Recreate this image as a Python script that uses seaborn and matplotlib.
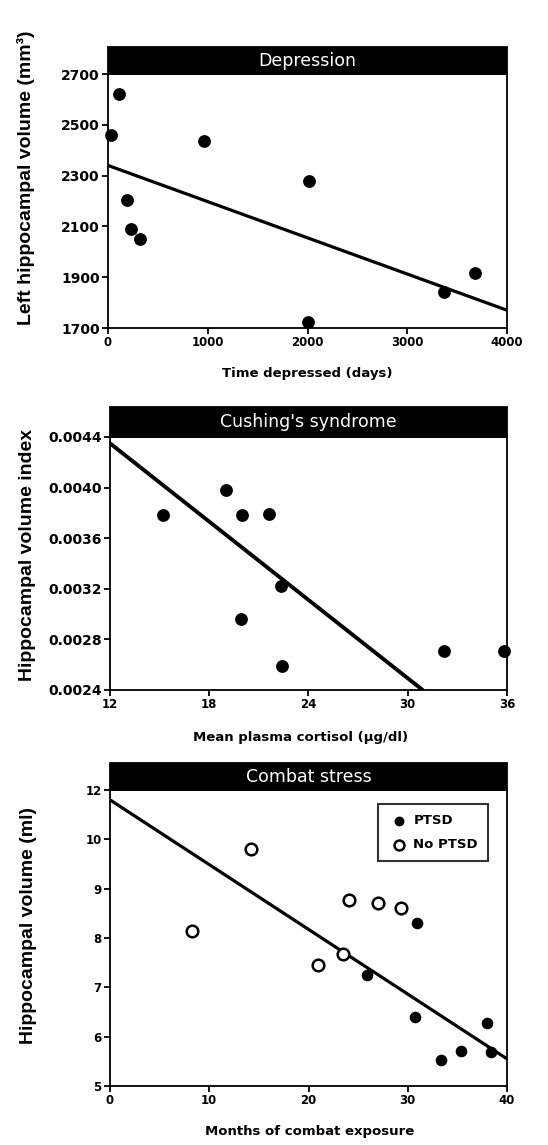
import matplotlib
matplotlib.use("Agg")
import matplotlib.pyplot as plt
from matplotlib.patches import Rectangle
import seaborn as sns

# Depression panel
dep_days = [30, 110, 195, 235, 320, 960, 2020, 2010, 3370, 3680]
dep_vol = [2460, 2620, 2205, 2090, 2050, 2435, 2280, 1725, 1840, 1915]
dep_fit_x = [0, 4000]
dep_fit_y = [2340, 1770]
dep_xticks = [0, 1000, 2000, 3000, 4000]
dep_yticks = [1700, 1900, 2100, 2300, 2500, 2700]

# Cushing's syndrome panel
cush_cortisol = [15.2, 19.0, 20.0, 21.6, 22.35, 19.9, 22.4, 32.2, 35.8]
cush_index = [0.00378, 0.00398, 0.00378, 0.00379, 0.00322, 0.00296, 0.00259, 0.00271, 0.00271]
cush_fit_x = [12, 30.9]
cush_fit_y = [0.00435, 0.0024]
cush_xticks = [12, 18, 24, 30, 36]
cush_yticks = [0.0024, 0.0028, 0.0032, 0.0036, 0.0040, 0.0044]

# Combat stress panel
ptsd_months = [30.9, 25.9, 30.7, 33.3, 35.4, 38.0, 38.4]
ptsd_vol = [8.31, 7.25, 6.39, 5.52, 5.70, 6.27, 5.68]
noptsd_months = [8.3, 14.2, 21.0, 23.5, 24.1, 27.0, 29.3]
noptsd_vol = [8.15, 9.81, 7.45, 7.68, 8.78, 8.70, 8.60]
combat_fit_x = [0, 40]
combat_fit_y = [10.8, 5.55]
combat_xticks = [0, 10, 20, 30, 40]
combat_yticks = [5, 6, 7, 8, 9, 10, 11]
combat_yticklabels = ['5', '6', '7', '8', '9', '10', '12']

sns.set_style("ticks")
plt.rcParams['font.family'] = ['DejaVu Sans']
plt.rcParams['text.color'] = 'black'
plt.rcParams['axes.labelcolor'] = 'black'

W, H = 548, 1145
fig = plt.figure(figsize=(W / 100, H / 100), dpi=100)
fig.patch.set_facecolor('white')


def make_axes(left, top, right, bottom):
    return fig.add_axes([left / W, 1 - bottom / H, (right - left) / W, (bottom - top) / H])


def style_axes(ax, xsize, ysize):
    for s in ax.spines.values():
        s.set_linewidth(1.3)
        s.set_color('black')
    ax.tick_params(direction='out', length=4, width=1.3, pad=2, colors='black')
    ax.tick_params(axis='x', labelsize=xsize)
    ax.tick_params(axis='y', labelsize=ysize)
    for lab in ax.get_xticklabels() + ax.get_yticklabels():
        lab.set_fontweight('bold')


def header(ax, text, bar_px, ax_px):
    h = bar_px / ax_px
    ax.add_patch(Rectangle((0, 1), 1, h, transform=ax.transAxes, facecolor='black',
                           edgecolor='black', lw=1.3, clip_on=False))
    ax.text(0.5, 1 + h / 2, text, transform=ax.transAxes, ha='center', va='center',
            color='white', fontsize=12.5)


def fig_text(xpx, ypx, text, **kw):
    fig.text(xpx / W, 1 - ypx / H, text, ha='center', va='center', color='black', **kw)


# --- Depression ---
ax1 = make_axes(108, 74, 507, 328)
sns.lineplot(x=dep_fit_x, y=dep_fit_y, ax=ax1, color='black', lw=2.3)
sns.scatterplot(x=dep_days, y=dep_vol, ax=ax1, color='black', s=85, edgecolor='black',
                linewidth=0, clip_on=False, zorder=3)
ax1.set_xlim(0, 4000)
ax1.set_ylim(1700, 2700)
ax1.set_xticks(dep_xticks)
ax1.set_yticks(dep_yticks)
style_axes(ax1, 8.5, 10)
header(ax1, 'Depression', 27, 254)
fig_text(307, 373, 'Time depressed (days)', fontsize=9.5, fontweight='bold')
fig_text(26, 178, 'Left hippocampal volume (mm³)', rotation=90, fontsize=14,
         fontweight='bold', family='Liberation Sans')

# --- Cushing's syndrome ---
ax2 = make_axes(110, 437, 507, 690)
sns.lineplot(x=cush_fit_x, y=cush_fit_y, ax=ax2, color='black', lw=2.8)
sns.scatterplot(x=cush_cortisol, y=cush_index, ax=ax2, color='black', s=85, edgecolor='black',
                linewidth=0, clip_on=False, zorder=3)
ax2.set_xlim(12, 36)
ax2.set_ylim(0.0024, 0.0044)
ax2.set_xticks(cush_xticks)
ax2.set_yticks(cush_yticks)
ax2.set_yticklabels(['%.4f' % v for v in cush_yticks])
style_axes(ax2, 8.5, 10)
header(ax2, "Cushing's syndrome", 30, 253)
fig_text(301, 738, 'Mean plasma cortisol (μg/dl)', fontsize=9.5, fontweight='bold')
fig_text(28, 555, 'Hippocampal volume index', rotation=90, fontsize=14,
         fontweight='bold', family='Liberation Sans')

# --- Combat stress ---
ax3 = make_axes(110, 790, 507, 1086)
sns.lineplot(x=combat_fit_x, y=combat_fit_y, ax=ax3, color='black', lw=2.3)
sns.scatterplot(x=ptsd_months, y=ptsd_vol, ax=ax3, color='black', s=70, edgecolor='black',
                linewidth=0, clip_on=False, zorder=3, label='PTSD')
sns.scatterplot(x=noptsd_months, y=noptsd_vol, ax=ax3, color='white', s=70, edgecolor='black',
                linewidth=1.8, clip_on=False, zorder=3, label='No PTSD')
ax3.set_xlim(0, 40)
ax3.set_ylim(5, 11)
ax3.set_xticks(combat_xticks)
ax3.set_yticks(combat_yticks)
ax3.set_yticklabels(combat_yticklabels)
style_axes(ax3, 8.5, 8.5)
header(ax3, 'Combat stress', 27, 296)
leg = ax3.legend(loc='upper right', bbox_to_anchor=(0.952, 0.952), frameon=True, fancybox=False,
                 edgecolor='black', prop={'weight': 'bold', 'size': 9.5}, handletextpad=0.3,
                 borderpad=0.75, labelspacing=0.85, markerscale=0.85, handlelength=1.6,
                 borderaxespad=0)
leg.get_frame().set_linewidth(1.5)
fig_text(310, 1132, 'Months of combat exposure', fontsize=9.5, fontweight='bold')
fig_text(29, 925, 'Hippocampal volume (ml)', rotation=90, fontsize=14,
         fontweight='bold', family='Liberation Sans')

fig.savefig('out.png', dpi=100, facecolor='white')
